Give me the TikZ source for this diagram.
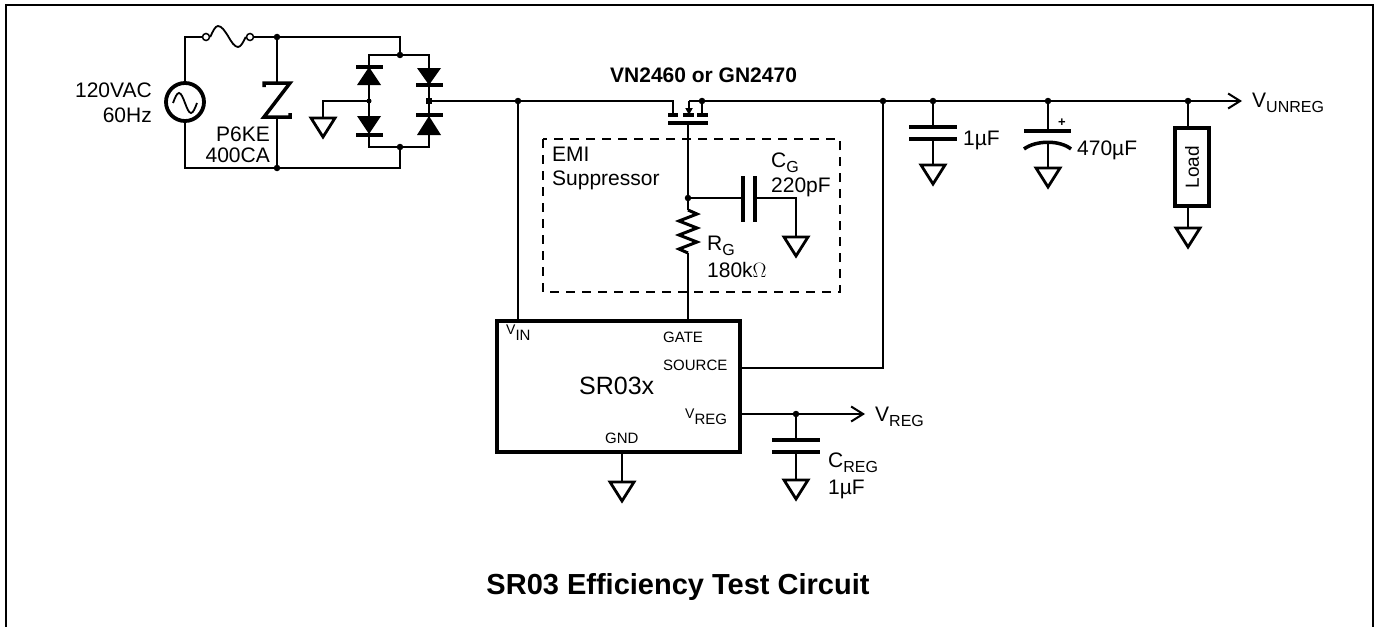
\documentclass[tikz,border=0pt]{standalone}
\usepackage{fontspec}
\setmainfont{Liberation Sans}
\usetikzlibrary{arrows.meta}
\newcommand\fs[1]{\fontsize{#1}{#1}\selectfont}
\newcommand\lsub[1]{\raisebox{-5pt}{\fs{16}#1}}
\newcommand\ssub[1]{\raisebox{-6pt}{\fs{15}#1}}
\begin{document}
\begin{tikzpicture}[x=1pt,y=-1pt,
  wire/.style={line width=2pt},
  plate/.style={line width=4pt},
  dot/.style={circle,fill=black,inner sep=0pt,minimum size=6.5pt},
  lbl/.style={inner sep=0pt,font=\fs{21}},
  small/.style={inner sep=0pt,font=\fs{15}},
  gnd/.pic={\draw[line width=2.8pt,line join=miter] (-12,0) -- (12,0) -- (0,19) -- cycle;},
  arr/.style={-{Straight Barb[length=12pt,width=15pt]}}
]
\useasboundingbox (0,0) rectangle (1380,626);
\draw[line width=2.5pt] (6,640) -- (6,5) -- (1373,5) -- (1373,640);

% ---------------- AC input ----------------
\node[draw,circle,line width=3.8pt,minimum size=38pt,inner sep=0pt] (src) at (185,102) {};
\draw[line width=1.8pt] (173,103) sin (179,93) cos (185,103) sin (191,113) cos (197,103);
\node[dot,minimum size=7pt,fill=white,draw,line width=1.5pt] (fuseL) at (206,37) {};
\node[dot,minimum size=7pt,fill=white,draw,line width=1.5pt] (fuseR) at (250,37) {};
\draw[line width=1.8pt] (fuseL.east) sin (218,26) cos (228,36) sin (238,47) cos (fuseR.west);
\coordinate (tz) at (277,37);
\coordinate (bz) at (277,168);
\coordinate (bt) at (400,55);
\coordinate (bb) at (400,147);
\draw[wire] (src.north) |- (fuseL.west);
\draw[wire] (fuseR.east) -- (tz) -| (bt);
\draw[wire] (src.south) |- (bz) -| (bb);
\node[dot] at (tz) {};
\node[dot] at (bz) {};
% TVS diode
\draw[wire] (tz) -- (277,83);
\draw[wire] (277,117) -- (bz);
\draw[line width=3.5pt,line join=miter] (264,87) -- (264,83) -- (290,83) -- (264,117) -- (290,117) -- (290,113);
\node[lbl,anchor=base east] (p6) at (270,141) {P6KE};
\node[lbl,anchor=base east] (p6b) at (270,162) {400CA};
\node[lbl,anchor=base east] (vac) at (152,97) {120VAC};
\node[lbl,anchor=base east] (hz) at (152,122) {60Hz};

% ---------------- Bridge ----------------
\coordinate (lm) at (369,101);
\coordinate (rm) at (429,101);
\draw[wire] (369,55) rectangle (429,147);
\node[dot] at (bt) {};
\node[dot] at (bb) {};
% left upper (pointing up)
\draw[plate] (356,67) -- (383,67);
\fill (369,67) -- (381,85) -- (357,85) -- cycle;
% left lower (pointing down)
\fill (357,116) -- (381,116) -- (369,134) -- cycle;
\draw[plate] (356,135) -- (383,135);
% right upper (pointing down)
\fill (417,68) -- (441,68) -- (429,85) -- cycle;
\draw[plate] (416,85) -- (443,85);
% right lower (pointing up)
\draw[plate] (416,115) -- (443,115);
\fill (429,116) -- (441,135) -- (417,135) -- cycle;
\node[dot,minimum size=5pt] at (lm) {};
\node[rectangle,fill=black,inner sep=0pt,minimum size=6pt] at (rm) {};
\coordinate (g1) at (323,118);
\draw[wire] (lm) -| (g1);
\pic at (g1) {gnd};

% ---------------- MOSFET ----------------
\coordinate (vin) at (518,101);
\coordinate (dr) at (673,101);
\coordinate (sr) at (702,101);
\coordinate (so) at (883,101);
\draw[wire] (rm) -- (vin) -- (dr) -- (673,115);
\draw[wire] (689,101) -- (sr) -- (702,115);
\draw[wire,-{Triangle[length=7pt,width=7pt]}] (689,101) -- (689,115);
\draw[plate] (668,115) -- (678,115);
\draw[plate] (683,115) -- (694,115);
\draw[plate] (697,115) -- (708,115);
\draw[plate] (668,123) -- (708,123);
\node[inner sep=0pt,font=\fs{21}\bfseries,anchor=base west] (mos) at (610,82) {VN2460 or GN2470};
\node[dot] at (vin) {};
\node[dot] at (sr) {};

% ---------------- EMI suppressor ----------------
\draw[line width=2pt,dash pattern=on 9pt off 7pt] (543,139) rectangle (840,292);
\node[lbl,anchor=base west] (emi) at (552,161) {EMI};
\node[lbl,anchor=base west] (sup) at (552,185) {Suppressor};
\coordinate (gj) at (688,198);
\coordinate (g2) at (796,237);
\draw[wire] (688,123) -- (gj) -- (688,210);
\draw[wire] (688,253) -- (688,321);
\draw[line width=3pt,line join=miter] (688,210) -- (697,214) -- (679,221) -- (697,228) -- (679,235) -- (697,242) -- (679,249) -- (688,253);
\draw[wire] (gj) -- (743,198);
\draw[plate] (743,176) -- (743,222);
\draw[plate] (755,176) -- (755,222);
\draw[wire] (755,198) -| (g2);
\pic at (g2) {gnd};
\node[dot] at (gj) {};
\node[lbl,anchor=base west] (cg) at (771,167) {C\lsub{G}};
\node[lbl,anchor=base west] (cgv) at (771,192) {220pF};
\node[lbl,anchor=base west] (rg) at (707,250) {R\lsub{G}};
\node[lbl,anchor=base west] (rgv) at (707,277) {180k$\Omega$};

% ---------------- SR03x ----------------
\draw[line width=4pt] (497,321) rectangle (740,452);
\node[inner sep=0pt,font=\fs{25},anchor=base west] (sr03) at (579,394) {SR03x};
\node[small,anchor=base west] (vinl) at (506,334) {\fs{14}V\ssub{IN}};
\node[small,anchor=base west] (gatel) at (663,342) {GATE};
\node[small,anchor=base west] (srcl) at (663,370) {SOURCE};
\node[small,anchor=base west] (vregl) at (685,418) {\fs{14}V\ssub{REG}};
\node[small,anchor=base west] (gndl) at (605,443) {GND};
\draw[wire] (vin) -- (518,321);
\draw[wire] (740,368) -| (so);
\node[dot] at (so) {};
\coordinate (cr) at (796,414);
\coordinate (vregout) at (865,414);
\draw[wire,arr] (740,414) -- (vregout);
\node[dot] at (cr) {};
\node[lbl,anchor=base west] (vreg) at (875,421) {V\lsub{REG}};
\coordinate (g3) at (796,480);
\draw[wire] (cr) -- (796,440);
\draw[plate] (772,440) -- (820,440);
\draw[plate] (772,452) -- (820,452);
\draw[wire] (796,452) -- (g3);
\pic at (g3) {gnd};
\node[lbl,anchor=base west] (creg) at (828,467) {C\lsub{REG}};
\node[lbl,anchor=base west] (cregv) at (828,494) {1µF};
\coordinate (g4) at (622,482);
\draw[wire] (622,452) -- (g4);
\pic at (g4) {gnd};

% ---------------- Output side ----------------
\coordinate (c1) at (933,101);
\coordinate (c2) at (1048,101);
\coordinate (ld) at (1188,101);
\coordinate (vun) at (1242,101);
\draw[wire] (sr) -- (so) -- (c1) -- (c2) -- (ld);
\draw[wire,arr] (ld) -- (vun);
\node[dot] at (c1) {};
\node[dot] at (c2) {};
\node[dot] at (ld) {};
\node[lbl,anchor=base west] (vunl) at (1252,107) {V\lsub{UNREG}};
% 1uF
\coordinate (g5) at (933,165);
\draw[wire] (c1) -- (933,127);
\draw[plate] (909,127) -- (957,127);
\draw[plate] (909,139) -- (957,139);
\draw[wire] (933,139) -- (g5);
\pic at (g5) {gnd};
\node[lbl,anchor=base west] (c1l) at (963,145) {1µF};
% 470uF
\coordinate (g6) at (1048,168);
\draw[wire] (c2) -- (1048,131);
\draw[plate] (1024,131) -- (1071,131);
\draw[line width=3.5pt] (1024,149) .. controls (1036,140) and (1060,140) .. (1071,149);
\draw[wire] (1048,143) -- (g6);
\pic at (g6) {gnd};
\node[inner sep=0pt,font=\fs{13}\bfseries] (plus) at (1062,123) {+};
\node[lbl,anchor=base west] (c2l) at (1077,155) {470µF};
% Load
\coordinate (g7) at (1188,228);
\node[draw,line width=3.5pt,minimum width=34pt,minimum height=78pt,inner sep=0pt] (load) at (1192,167) {};
\node[inner sep=0pt,font=\fs{19},rotate=90] at (load.center) {Load};
\draw[wire] (ld) -- (load.north -| ld);
\draw[wire] (load.south -| ld) -- (g7);
\pic at (g7) {gnd};

% ---------------- Title ----------------
\node[inner sep=0pt,font=\fs{29}\bfseries,anchor=base] (title) at (678,594) {SR03 Efficiency Test Circuit};
\end{tikzpicture}
\end{document}
